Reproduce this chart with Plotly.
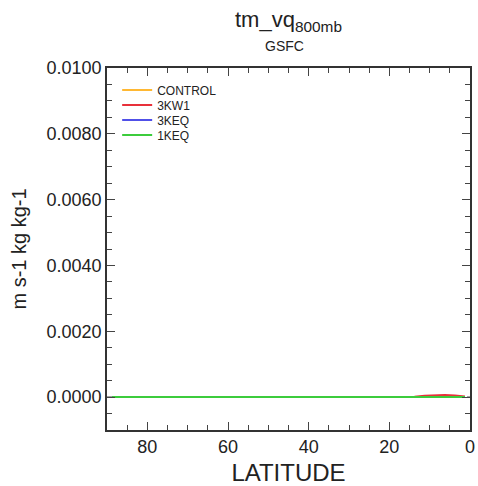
import plotly.graph_objects as go

lat = [88.75, 86.25, 83.75, 81.25, 78.75, 76.25, 73.75, 71.25, 68.75, 66.25,
       63.75, 61.25, 58.75, 56.25, 53.75, 51.25, 48.75, 46.25, 43.75, 41.25,
       38.75, 36.25, 33.75, 31.25, 28.75, 26.25, 23.75, 21.25, 18.75, 16.25,
       13.75, 11.25, 8.75, 6.25, 3.75, 1.25]
control = [0.0] * 30 + [0.0, 0.00001, 0.00002, 0.00002, 0.00001, 0.0]
kw1 = [0.0] * 30 + [0.00001, 0.00004, 0.00006, 0.00006, 0.00005, 0.00002]
keq3 = [0.0] * 30 + [0.0, -0.00001, -0.00001, -0.00001, 0.0, 0.0]
keq1 = [0.0] * 36

series = [("CONTROL", control, "#ffb833"), ("3KW1", kw1, "#e8303a"),
          ("3KEQ", keq3, "#5050e8"), ("1KEQ", keq1, "#3ccc3c")]
legend_ids = ["legend", "legend2", "legend3", "legend4"]
legend_y = [0.9392, 0.8978, 0.8564, 0.8149]

font = "Liberation Sans, Arial, sans-serif"

fig = go.Figure()
fig.add_trace(go.Scatter(x=[90, 0], y=[0, 0], mode="lines",
                         line=dict(color="#444", width=1.2, dash="dash"),
                         showlegend=False, hoverinfo="skip"))
for (name, vals, col), lid in zip(series, legend_ids):
    fig.add_trace(go.Scatter(x=lat, y=vals, mode="lines", name=name, legend=lid,
                             line=dict(color=col, width=2)))

legends = {}
for lid, ly in zip(legend_ids, legend_y):
    legends[lid] = dict(x=0.028, y=ly, xanchor="left", yanchor="middle",
                        bgcolor="rgba(0,0,0,0)", font=dict(size=12, family=font),
                        itemwidth=30)

fig.update_layout(
    width=478, height=486,
    margin=dict(l=107, r=8, t=68, b=56, autoexpand=False),
    paper_bgcolor="white", plot_bgcolor="white",
    font=dict(family=font, color="#222"),
    showlegend=True,
    **legends,
    annotations=[
        dict(text="tm_vq<sub>800mb</sub>", x=0.5, y=1.13, xref="paper", yref="paper",
             showarrow=False, font=dict(size=22, family=font), xanchor="center", yanchor="middle"),
        dict(text="GSFC", x=0.5, y=1.06, xref="paper", yref="paper",
             showarrow=False, font=dict(size=14, family=font), xanchor="center", yanchor="middle",
             xshift=-4),
    ],
    xaxis=dict(range=[90, 0], tickvals=[80, 60, 40, 20, 0], ticks="inside", ticklen=8,
               showline=True, linecolor="#333", linewidth=1.5, mirror="ticks",
               showgrid=False, zeroline=False, tickfont=dict(size=18), automargin=False,
               minor=dict(dtick=5, ticks="inside", ticklen=5, showgrid=False, tick0=0),
               title=dict(text="LATITUDE", font=dict(size=24), standoff=8)),
    yaxis=dict(range=[-0.001, 0.01], tickvals=[0, 0.002, 0.004, 0.006, 0.008, 0.01],
               tickformat=".4f", ticks="inside", ticklen=8, automargin=False,
               showline=True, linecolor="#333", linewidth=1.5, mirror="ticks",
               showgrid=False, zeroline=False, tickfont=dict(size=18),
               minor=dict(dtick=0.0005, ticks="inside", ticklen=5, showgrid=False, tick0=0),
               title=dict(text="m s-1 kg kg-1", font=dict(size=20), standoff=15)),
)
fig.write_html("out.html", config={"displayModeBar": False},
               post_script="document.body.style.margin='0';document.body.style.overflow='hidden';")
